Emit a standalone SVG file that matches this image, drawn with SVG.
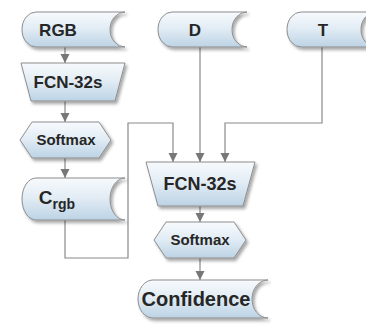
<svg xmlns="http://www.w3.org/2000/svg" width="366" height="328" viewBox="0 0 366 328">
  <defs>
    <linearGradient id="fillGrad" x1="0" y1="0" x2="0" y2="1">
      <stop offset="0" stop-color="#f7fafd"/>
      <stop offset="0.45" stop-color="#e3edf5"/>
      <stop offset="1" stop-color="#bcd3e5"/>
    </linearGradient>
    <filter id="shadow" x="-10%" y="-10%" width="125%" height="135%">
      <feDropShadow dx="2" dy="2.5" stdDeviation="1.6" flood-color="#000" flood-opacity="0.35"/>
    </filter>
    <marker id="arrow" viewBox="0 0 10 10" refX="10" refY="5" markerWidth="9" markerHeight="10" markerUnits="userSpaceOnUse" orient="auto">
      <path d="M0,0 L10,5 L0,10 Z" fill="#777777"/>
    </marker>
  </defs>
  <style>
    .shape { fill: url(#fillGrad); stroke: #8c8c8c; stroke-width: 1; filter: url(#shadow); }
    .label { font-family: "Liberation Sans", Arial, sans-serif; font-weight: bold; fill: #262626; text-anchor: middle; }
    .conn { fill: none; stroke: #8a8a8a; stroke-width: 1.2; }
    .arrowed { marker-end: url(#arrow); }
  </style>

  <rect width="366" height="328" fill="#ffffff"/>

  <!-- connectors -->
  <g id="connectors">
    <path class="conn arrowed" d="M65,47 V63"/>
    <path class="conn arrowed" d="M65,101 V122"/>
    <path class="conn arrowed" d="M65,158 V178"/>
    <path class="conn arrowed" d="M65,220 V258 H128 V123 H173 V162"/>
    <path class="conn arrowed" d="M200,47 V162"/>
    <path class="conn arrowed" d="M322,47 V123 H225 V162"/>
    <path class="conn arrowed" d="M200,206 V222"/>
    <path class="conn arrowed" d="M200,258 V280"/>
  </g>

  <!-- input: RGB -->
  <g id="node-rgb">
    <path class="shape" d="M36,12 H125 A15,17.5 0 0 0 125,47 H36 A14,17.5 0 0 1 36,12 Z"/>
    <text class="label" x="58" y="36" font-size="17">RGB</text>
  </g>

  <!-- input: D -->
  <g id="node-d">
    <path class="shape" d="M172,12 H247 A15,17.5 0 0 0 247,47 H172 A14,17.5 0 0 1 172,12 Z"/>
    <text class="label" x="195" y="36" font-size="17">D</text>
  </g>

  <!-- input: T -->
  <g id="node-t">
    <path class="shape" d="M301,12 H376 A15,17.5 0 0 0 376,47 H301 A14,17.5 0 0 1 301,12 Z"/>
    <text class="label" x="323" y="36" font-size="17">T</text>
  </g>

  <!-- FCN-32s on RGB -->
  <g id="node-fcn-rgb">
    <path class="shape" d="M21,63 H125 L115,101 H31 Z"/>
    <text class="label" x="68" y="88" font-size="17">FCN-32s</text>
  </g>

  <!-- Softmax on RGB -->
  <g id="node-softmax-rgb">
    <path class="shape" d="M20,140 L32,122 H99 L111,140 L99,158 H32 Z"/>
    <text class="label" x="66" y="145" font-size="15">Softmax</text>
  </g>

  <!-- C_rgb -->
  <g id="node-crgb">
    <path class="shape" d="M36,178 H125 A15,21 0 0 0 125,220 H36 A14,21 0 0 1 36,178 Z"/>
    <text class="label" x="57" y="204" font-size="19">C<tspan font-size="14" dy="5">rgb</tspan></text>
  </g>

  <!-- fusion FCN-32s -->
  <g id="node-fcn-fuse">
    <path class="shape" d="M146,162 H255 L243,206 H158 Z"/>
    <text class="label" x="200" y="190" font-size="18">FCN-32s</text>
  </g>

  <!-- fusion Softmax -->
  <g id="node-softmax-fuse">
    <path class="shape" d="M154,240 L166,222 H234 L246,240 L234,258 H166 Z"/>
    <text class="label" x="200" y="245" font-size="15">Softmax</text>
  </g>

  <!-- output: Confidence -->
  <g id="node-confidence">
    <path class="shape" d="M153,280 H268 A16,19 0 0 0 268,318 H153 A15,19 0 0 1 153,280 Z"/>
    <text class="label" x="196" y="306" font-size="20">Confidence</text>
  </g>
</svg>
